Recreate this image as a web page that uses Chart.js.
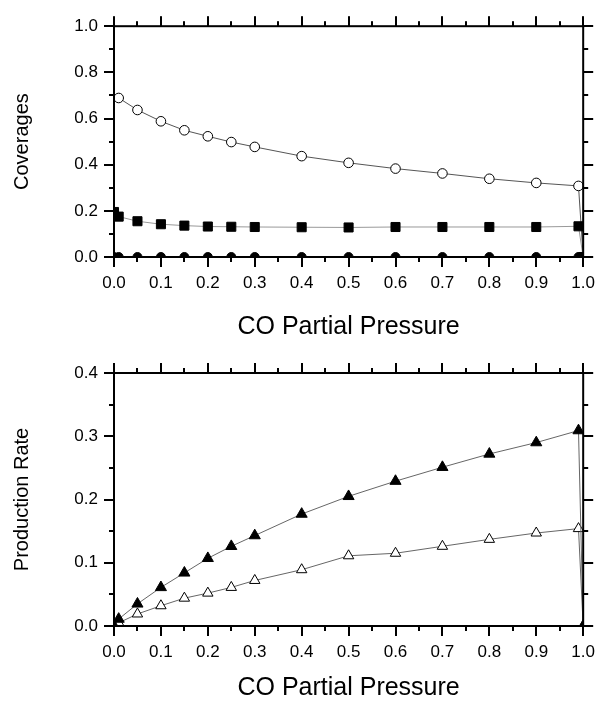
<!DOCTYPE html>
<html>
<head>
<meta charset="utf-8">
<script src="https://cdn.jsdelivr.net/npm/chart.js@4.4.0/dist/chart.umd.min.js"></script>
<style>
  html, body { margin: 0; padding: 0; background: #fff; }
  #wrap { position: relative; width: 611px; height: 701px; }
  canvas { position: absolute; left: 0; }
  #coverChart { top: 0; }
  #rateChart { top: 340px; }
</style>
</head>
<body>
<div id="wrap">
  <canvas id="coverChart" width="611" height="340"></canvas>
  <canvas id="rateChart" width="611" height="361"></canvas>
</div>
<script>
// CO partial pressure (x values shared by every series)
const pressure = [0, 0.01, 0.05, 0.1, 0.15, 0.2, 0.25, 0.3, 0.4, 0.5, 0.6, 0.7, 0.8, 0.9, 0.99, 1.0];

// Top panel: coverages
const coverOpenCircle = [null, 0.689, 0.637, 0.588, 0.549, 0.523, 0.498, 0.477, 0.437, 0.408, 0.383, 0.362, 0.339, 0.321, 0.308, 0];
const coverSquare = [0.195, 0.175, 0.155, 0.142, 0.136, 0.132, 0.131, 0.130, 0.129, 0.128, 0.130, 0.130, 0.130, 0.130, 0.133, 0];
const coverFilledCircle = [0, 0, 0, 0, 0, 0, 0, 0, 0, 0, 0, 0, 0, 0, 0, 0];

// Bottom panel: production rates
const rateFilledTri = [0, 0.011, 0.035, 0.061, 0.084, 0.107, 0.126, 0.143, 0.177, 0.205, 0.229, 0.251, 0.272, 0.290, 0.309, 0];
const rateOpenTri = [0, 0.005, 0.019, 0.032, 0.044, 0.052, 0.061, 0.072, 0.089, 0.111, 0.115, 0.126, 0.137, 0.147, 0.154, 0];

// Axis ranges / tick steps
const xTicks = {min: 0, max: 1, step: 0.1};
const coverTicks = {min: 0, max: 1, step: 0.2};
const rateTicks = {min: 0, max: 0.4, step: 0.1};

const FONT = 'Liberation Sans, Arial, sans-serif';

function pts(ys) {
  return pressure.map((x, i) => ({x: x, y: ys[i]}));
}

// Frame box and outward major/minor ticks on all four sides
const frameTicks = {
  id: 'frameTicks',
  afterDraw(chart) {
    const ctx = chart.ctx;
    const a = chart.chartArea;
    const xs = chart.scales.x, ys = chart.scales.y;
    ctx.save();
    ctx.fillStyle = '#000';
    ctx.fillRect(a.left - 1, a.top - 1, a.right - a.left + 2, 2);
    ctx.fillRect(a.left - 1, a.bottom - 1, a.right - a.left + 2, 2);
    ctx.fillRect(a.left - 1, a.top - 1, 2, a.bottom - a.top + 2);
    ctx.fillRect(a.right - 1, a.top - 1, 2, a.bottom - a.top + 2);
    const marksFor = (range) => {
      const out = [];
      const n = Math.round((range.max - range.min) / range.step);
      for (let i = 0; i <= n; i++) {
        const v = range.min + i * range.step;
        out.push([v, 10]);
        if (i < n) out.push([v + range.step / 2, 5]);
      }
      return out;
    };
    const yRange = chart.options.yRange;
    marksFor(xTicks).forEach(([v, len]) => {
      const p = Math.round(xs.getPixelForValue(v));
      ctx.fillRect(p - 1, a.bottom, 2, len);
      ctx.fillRect(p - 1, a.top - len, 2, len);
    });
    marksFor(yRange).forEach(([v, len]) => {
      const p = Math.round(ys.getPixelForValue(v));
      ctx.fillRect(a.left - len, p - 1, len, 2);
      ctx.fillRect(a.right, p - 1, len, 2);
    });
    ctx.restore();
  }
};

function makeOptions(yRange, yTitle, padTop, xHeight) {
  return {
    responsive: false,
    animation: false,
    devicePixelRatio: 1,
    yRange: yRange,
    layout: {padding: {top: padTop, right: 16, left: 0, bottom: 0}},
    plugins: {legend: {display: false}, tooltip: {enabled: false}},
    scales: {
      x: {
        type: 'linear',
        min: xTicks.min,
        max: xTicks.max,
        grid: {display: false, drawTicks: false},
        border: {display: false},
        ticks: {
          stepSize: xTicks.step,
          padding: 16,
          color: '#000',
          font: {family: FONT, size: 17},
          callback: v => v.toFixed(1)
        },
        title: {
          display: true,
          text: 'CO Partial Pressure',
          color: '#000',
          font: {family: FONT, size: 25, lineHeight: 1},
          padding: {top: 0, bottom: 0}
        },
        afterFit: s => { s.height = xHeight; }
      },
      y: {
        min: yRange.min,
        max: yRange.max,
        grid: {display: false, drawTicks: false},
        border: {display: false},
        ticks: {
          stepSize: yRange.step,
          padding: 16,
          color: '#000',
          font: {family: FONT, size: 17},
          callback: v => v.toFixed(1)
        },
        title: {
          display: true,
          text: yTitle,
          color: '#000',
          font: {family: FONT, size: 20, lineHeight: 1.2},
          padding: {top: 10, bottom: 0}
        },
        afterFit: s => { s.width = 114; }
      }
    }
  };
}

function series(ys, style, opts) {
  return Object.assign({
    data: pts(ys),
    borderWidth: 1,
    pointStyle: style,
    pointBorderWidth: 1,
    pointBorderColor: '#000',
    spanGaps: true,
    tension: 0
  }, opts);
}

new Chart(document.getElementById('coverChart'), {
  type: 'line',
  data: {
    datasets: [
      series(coverFilledCircle, 'circle', {borderColor: '#555', pointBackgroundColor: '#000', pointRadius: 4.5, order: 1}),
      series(coverSquare, 'rect', {borderColor: '#999', pointBackgroundColor: '#000', pointRadius: 6.4, order: 2}),
      series(coverOpenCircle, 'circle', {borderColor: '#555', pointBackgroundColor: '#fff', pointRadius: 4.8, order: 3})
    ]
  },
  options: makeOptions(coverTicks, 'Coverages', 20, 83),
  plugins: [frameTicks]
});

new Chart(document.getElementById('rateChart'), {
  type: 'line',
  data: {
    datasets: [
      series(rateFilledTri, 'triangle', {borderColor: '#666', pointBackgroundColor: '#000', pointRadius: 6.4, order: 1}),
      series(rateOpenTri, 'triangle', {borderColor: '#666', pointBackgroundColor: '#fff', pointRadius: 6, order: 2})
    ]
  },
  options: makeOptions(rateTicks, 'Production Rate', 33, 75),
  plugins: [frameTicks]
});
</script>
</body>
</html>
